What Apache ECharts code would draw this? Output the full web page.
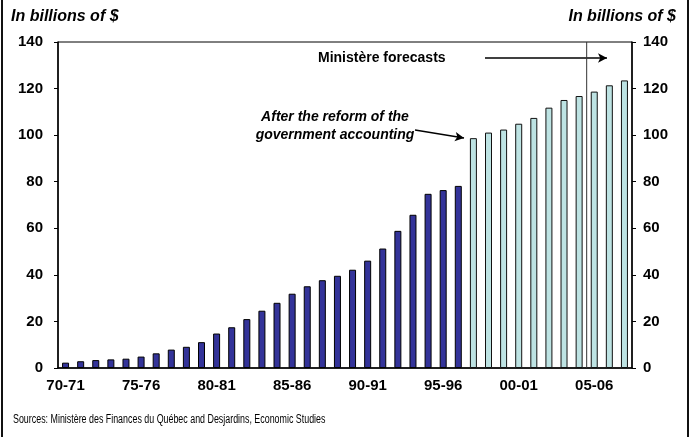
<!DOCTYPE html>
<html>
<head>
<meta charset="utf-8">
<script src="https://cdn.jsdelivr.net/npm/echarts@6/dist/echarts.min.js"></script>
<style>
  html, body { margin: 0; padding: 0; background: #fff; }
  #chart { width: 693px; height: 437px; }
</style>
</head>
<body>
<div id="chart"></div>
<script>
// Fiscal years 1970-71 through 2007-08
const years = [
  '70-71','71-72','72-73','73-74','74-75','75-76','76-77','77-78','78-79','79-80',
  '80-81','81-82','82-83','83-84','84-85','85-86','86-87','87-88','88-89','89-90',
  '90-91','91-92','92-93','93-94','94-95','95-96','96-97','97-98','98-99','99-00',
  '00-01','01-02','02-03','03-04','04-05','05-06','06-07','07-08'
];
// Debt before the accounting reform (70-71 to 96-97), billions of $
const debtBefore = [
  2.3, 2.9, 3.4, 3.7, 4.0, 4.9, 6.3, 7.9, 9.1, 11.1,
  14.8, 17.5, 21.0, 24.6, 28.0, 31.9, 35.1, 37.7, 39.6, 42.2,
  46.1, 51.3, 58.9, 65.8, 74.8, 76.4, 78.2
];
// Debt after the reform (97-98 to 07-08), billions of $
const debtAfter = [
  98.7, 101.1, 102.4, 104.9, 107.4, 111.8, 115.1, 116.8, 118.7, 121.4, 123.5
];
const yTicks = [0, 20, 40, 60, 80, 100, 120, 140];

const nBefore = debtBefore.length;
const seriesBefore = years.map((_, i) => i < nBefore ? debtBefore[i] : '-');
const seriesAfter = years.map((_, i) => i >= nBefore ? debtAfter[i - nBefore] : '-');

const FONT = '"Liberation Sans", Arial, sans-serif';
const chart = echarts.init(document.getElementById('chart'));

function yAxis(position, margin) {
  return {
    type: 'value',
    position: position,
    min: yTicks[0],
    max: yTicks[yTicks.length - 1],
    interval: 20,
    splitLine: { show: false },
    axisLine: { show: true, lineStyle: { color: '#000', width: 1.5 } },
    axisTick: { show: true, inside: false, length: 4, lineStyle: { color: '#000' } },
    axisLabel: { color: '#000', fontFamily: FONT, fontWeight: 'bold', fontSize: 15, margin: margin }
  };
}

chart.setOption({
  animation: false,
  backgroundColor: '#fff',
  grid: {
    left: 58, right: 61, top: 42, bottom: 69,
    show: true, borderColor: '#000', borderWidth: 1
  },
  xAxis: {
    type: 'category',
    data: years,
    axisLine: { lineStyle: { color: '#000', width: 1.5 } },
    axisTick: { show: false },
    axisLabel: {
      interval: 4, color: '#000', fontFamily: FONT, fontWeight: 'bold',
      fontSize: 15, margin: 10
    }
  },
  yAxis: [yAxis('left', 15), yAxis('right', 11)],
  series: [
    {
      type: 'bar',
      data: seriesBefore,
      barWidth: 7,
      barGap: '-100%',
      itemStyle: { color: '#333399', borderColor: '#000', borderWidth: 1 }
    },
    {
      type: 'bar',
      data: seriesAfter,
      barWidth: 7,
      barGap: '-100%',
      itemStyle: { color: '#bde3e3', borderColor: '#111', borderWidth: 1 },
      markLine: {
        silent: true,
        symbol: ['none', 'arrow'],
        symbolSize: [7, 9],
        label: { show: false },
        lineStyle: { color: '#000', width: 1.5, type: 'solid' },
        data: [
          [{ x: 485, y: 58 }, { x: 607, y: 58 }],
          [{ x: 415, y: 130 }, { x: 464, y: 138 }]
        ]
      }
    }
  ]
});

// Divider between actual and forecast years, placed via the category scale
const pA = chart.convertToPixel({ xAxisIndex: 0, yAxisIndex: 0 }, ['04-05', 140]);
const pB = chart.convertToPixel({ xAxisIndex: 0, yAxisIndex: 0 }, ['05-06', 0]);
const xDiv = (pA[0] + pB[0]) / 2;

chart.setOption({
  graphic: [
    { type: 'rect', left: 1, top: 0, shape: { width: 2, height: 437 }, style: { fill: '#111' } },
    { type: 'rect', left: 687, top: 0, shape: { width: 2, height: 437 }, style: { fill: '#111' } },
    {
      type: 'text', x: 11, y: 9,
      style: { text: 'In billions of $', font: 'italic bold 16px ' + FONT, fill: '#000' }
    },
    {
      type: 'text', x: 676, y: 9,
      style: { text: 'In billions of $', font: 'italic bold 16px ' + FONT, fill: '#000', align: 'right' }
    },
    {
      type: 'text', x: 318, y: 51,
      style: { text: 'Ministère forecasts', font: 'bold 14px ' + FONT, fill: '#000' }
    },
    {
      type: 'text', x: 335, y: 108,
      style: {
        text: 'After the reform of the\ngovernment accounting',
        font: 'italic bold 14px ' + FONT, fill: '#000',
        align: 'center', lineHeight: 18
      }
    },
    {
      type: 'text', x: 13, y: 414, scaleX: 0.74,
      style: {
        text: 'Sources: Ministère des Finances du Québec and Desjardins, Economic Studies',
        font: '12px ' + FONT, fill: '#000'
      }
    },
    {
      type: 'line', z: 10, silent: true,
      shape: { x1: xDiv, y1: pA[1], x2: xDiv, y2: pB[1] },
      style: { stroke: '#333', lineWidth: 1 }
    }
  ]
});
</script>
</body>
</html>
